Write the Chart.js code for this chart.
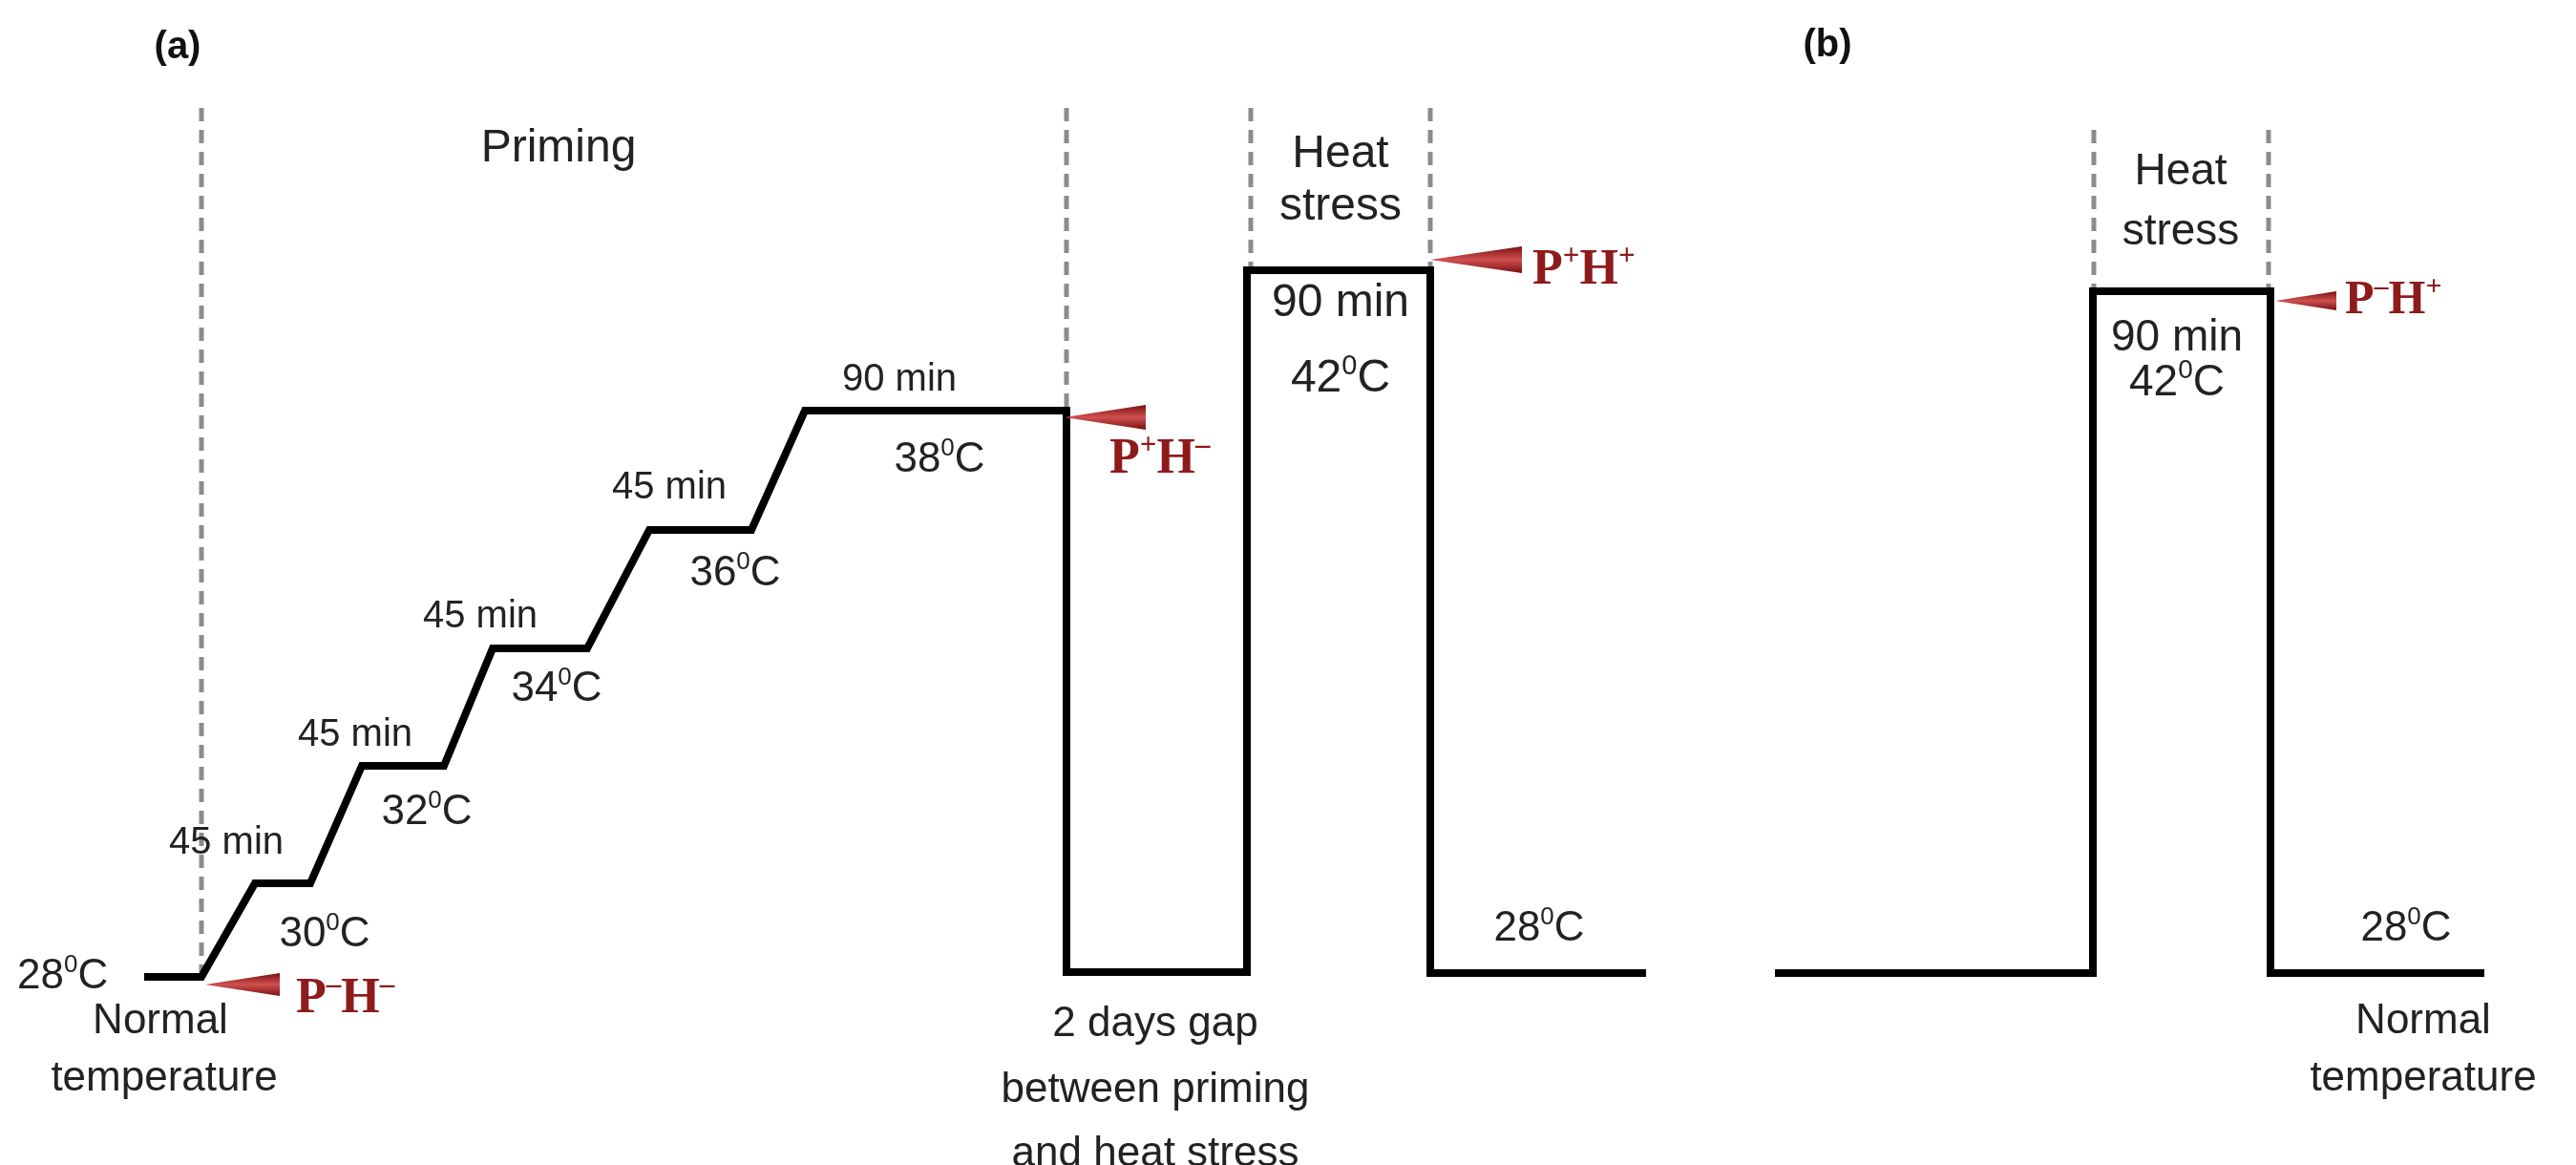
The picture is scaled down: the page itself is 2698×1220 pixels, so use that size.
<!DOCTYPE html>
<html><head><meta charset="utf-8">
<script src="https://cdn.jsdelivr.net/npm/chart.js@4"></script>
<style>html,body{margin:0;padding:0;background:#fff}#wrap{width:2698px;height:1220px}</style>
</head><body><div id="wrap"><canvas id="c"></canvas></div>
<script>
// Schematic profile (a): horizontal position (schematic units) and vertical level (schematic height, top = 0)
const profileA_x = [151, 211, 267, 325, 379, 465, 516, 615, 680, 787, 843, 1117, 1117, 1306, 1306, 1498, 1498, 1724];
const profileA_y = [1023,1023, 925, 925, 802, 802, 679, 679, 555, 555, 430, 430, 1018, 1018, 283, 283, 1019, 1019];
// Schematic profile (b)
const profileB_x = [1859, 2192, 2192, 2378, 2378, 2602];
const profileB_y = [1019, 1019, 305, 305, 1019, 1019];
// Phase boundaries (dashed)
const dashX = [211, 1117, 1310, 1498, 2193, 2376];
const dashTop = [113, 113, 113, 113, 136, 136];
const dashBottom = [1023, 430, 283, 283, 305, 305];
// Sampling markers [tipX, tipY, baseX, halfHeight]
const markers = [[215,1031,293,12],[1115,437,1200,13],[1498,272,1594,14],[2383,315,2447,10]];
// Labels: text, x, y, size, style ('s'=sans,'r'=red serif,'b'=bold sans), align
const labels = [
 ['(a)',186,50,40,'b','center'],['(b)',1914,48,40,'b','center'],
 ['Priming',585,156,48,'s','center'],
 ['Heat',1404,162,48,'s','center'],['stress',1404,217,48,'s','center'],
 ['Heat',2284,180,46,'s','center'],['stress',2284,243,46,'s','center'],
 ['28^0C',18,1023,44,'s','left'],
 ['Normal',168,1070,44,'s','center'],['temperature',172,1130,44,'s','center'],
 ['45 min',237,883,40,'s','center'],['30^0C',340,979,44,'s','center'],
 ['45 min',372,770,40,'s','center'],['32^0C',447,851,44,'s','center'],
 ['45 min',503,646,40,'s','center'],['34^0C',583,722,44,'s','center'],
 ['45 min',701,511,40,'s','center'],['36^0C',770,601,44,'s','center'],
 ['90 min',942,398,40,'s','center'],['38^0C',984,482,44,'s','center'],
 ['90 min',1404,318,48,'s','center'],['42^0C',1404,397,48,'s','center'],
 ['90 min',2280,354,46,'s','center'],['42^0C',2280,401,46,'s','center'],
 ['28^0C',1612,973,44,'s','center'],['28^0C',2520,973,44,'s','center'],
 ['2 days gap',1210,1073,44,'s','center'],['between priming',1210,1142,44,'s','center'],['and heat stress',1210,1209,44,'s','center'],
 ['Normal',2538,1070,44,'s','center'],['temperature',2538,1130,44,'s','center'],
 ['P^-H^-',310,1047,52,'r','left'],['P^+H^-',1162,482,52,'r','left'],
 ['P^+H^+',1605,284,52,'r','left'],['P^-H^+',2456,315,50,'r','left']
];

function segs(t){const out=[];for(let i=0;i<t.length;i++){if(t[i]==='^'){out.push([t[i+1]==='-'?'\u2013':t[i+1],true]);i++;}else out.push([t[i],false]);}return out;}
function drawLabel(ctx,l,xs,ys){
  const [t,xv,yv,size,st,al]=l; const x=xs.getPixelForValue(xv), y=ys.getPixelForValue(yv);
  const fam = st==='r' ? '"Liberation Serif", serif' : '"Liberation Sans", Arial, sans-serif';
  const w = (st==='s')?'normal':'bold';
  const big=w+' '+size+'px '+fam, small=w+' '+Math.round(size*0.6)+'px '+fam;
  const parts=segs(t); let total=0;
  parts.forEach(p=>{ctx.font=p[1]?small:big; total+=ctx.measureText(p[0]).width;});
  let cx = al==='center'? x-total/2 : x;
  ctx.fillStyle = st==='r' ? '#8e1b1b' : (st==='b'?'#111':'#222');
  ctx.textBaseline='middle'; ctx.textAlign='left';
  parts.forEach(p=>{ctx.font=p[1]?small:big; ctx.fillText(p[0],cx,p[1]?y-size*0.28:y); cx+=ctx.measureText(p[0]).width;});
}
const deco = {id:'deco',
  beforeDatasetsDraw(ch){const ctx=ch.ctx,xs=ch.scales.x,ys=ch.scales.y;ctx.save();
    ctx.strokeStyle='#8c8c8c';ctx.lineWidth=5;ctx.setLineDash([14,9]);
    dashX.forEach((dx,i)=>{ctx.beginPath();ctx.moveTo(xs.getPixelForValue(dx),ys.getPixelForValue(dashTop[i]));ctx.lineTo(xs.getPixelForValue(dx),ys.getPixelForValue(dashBottom[i]));ctx.stroke();});
    ctx.restore();},
  afterDatasetsDraw(ch){const ctx=ch.ctx,xs=ch.scales.x,ys=ch.scales.y;ctx.save();
    markers.forEach(m=>{const tx=xs.getPixelForValue(m[0]),ty=ys.getPixelForValue(m[1]),bx=xs.getPixelForValue(m[2]);
      const g=ctx.createLinearGradient(0,ty-m[3],0,ty+m[3]);g.addColorStop(0,'#7a0f0f');g.addColorStop(0.5,'#d05050');g.addColorStop(1,'#7a0f0f');
      ctx.fillStyle=g;ctx.beginPath();ctx.moveTo(tx,ty);ctx.lineTo(bx,ty-m[3]);ctx.lineTo(bx,ty+m[3]);ctx.closePath();ctx.fill();});
    labels.forEach(l=>drawLabel(ctx,l,xs,ys));ctx.restore();}
};
const toPts=(xa,ya)=>xa.map((x,i)=>({x:x,y:ya[i]}));
new Chart(document.getElementById('c'),{type:'scatter',
  data:{datasets:[
    {data:toPts(profileA_x,profileA_y),showLine:true,borderColor:'#000',borderWidth:8,pointRadius:0,borderJoinStyle:'miter',borderCapStyle:'butt'},
    {data:toPts(profileB_x,profileB_y),showLine:true,borderColor:'#000',borderWidth:8,pointRadius:0,borderJoinStyle:'miter',borderCapStyle:'butt'}
  ]},
  options:{responsive:true,maintainAspectRatio:false,animation:false,layout:{padding:0},
    plugins:{legend:{display:false},tooltip:{enabled:false}},
    scales:{x:{type:'linear',min:0,max:2698,display:false},y:{type:'linear',min:0,max:1220,reverse:true,display:false}}},
  plugins:[deco]});
</script></body></html>
